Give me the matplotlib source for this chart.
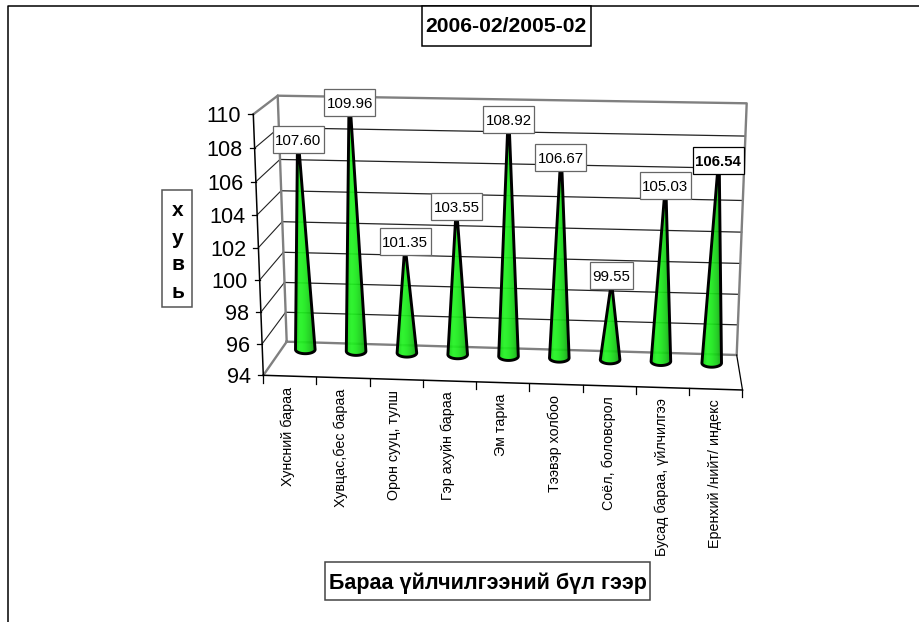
import numpy as np
import matplotlib
matplotlib.use("Agg")
import matplotlib.pyplot as plt
from matplotlib.colors import LinearSegmentedColormap
from matplotlib.patches import PathPatch, Rectangle
from matplotlib.path import Path

plt.rcParams['font.family'] = ['Liberation Sans', 'DejaVu Sans']

categories = ["Хунсний бараа", "Хувцас,бес бараа", "Орон сууц, тулш",
              "Гэр ахуйн бараа", "Эм тариа", "Тээвэр холбоо",
              "Соёл, боловсрол", "Бусад бараа, үйлчилгээ",
              "Еренхий /нийт/ индекс"]
values = [107.60, 109.96, 101.35, 103.55, 108.92, 106.67, 99.55, 105.03, 106.54]
labels = ["107.60", "109.96", "101.35", "103.55", "108.92", "106.67", "99.55",
          "105.03", "106.54"]
y_ticks = [94, 96, 98, 100, 102, 104, 106, 108, 110]

GRAY = "#808080"
cone_cmap = LinearSegmentedColormap.from_list(
    "cone", ["#12cc12", "#22f422", "#1cea1c", "#16cc16", "#0f9a0f"])


def wall_y(y_bottom, y_top, v):
    # the 3d view bends the value scale a little
    t = (v - 94) / 16
    return y_bottom + (y_top - y_bottom) * t + 12 * t * (1 - t)


def wall_x(x_bottom, x_top, v):
    return x_bottom + (x_top - x_bottom) * (v - 94) / 16


def front_left(v):
    return wall_x(263.3, 253.3, v), wall_y(375.3, 114.3, v)


def back_left(v):
    return wall_x(286.7, 277.7, v), wall_y(341.7, 95.7, v)


def back_right(v):
    return wall_x(736.7, 746.7, v), wall_y(355, 103.3, v)


def cone_tip(i, v):
    u = i / (len(values) - 1)
    height = (16 + 0.8 * u) * (v - 95.2)
    base_x = 305.3 + 50.8 * i
    return base_x + (-0.035 + 0.07 * u) * height, 351.5 + 13.5 * u - height


def draw_cone(ax, i, v):
    u = i / (len(values) - 1)
    cx, cy = 305.3 + 50.8 * i, 349.5 + 13.5 * u
    tx, ty = cone_tip(i, v)
    w, h = 9.8, 4.2
    a = np.linspace(0, np.pi, 30)
    pts = [(tx - 1, ty), (tx + 1, ty)]
    pts += list(zip(cx + w * np.cos(a), cy + h * np.sin(a)))
    pts.append((tx - 1, ty))
    path = Path(pts)

    grad = np.linspace(0, 1, 64).reshape(1, -1)
    im = ax.imshow(grad, cmap=cone_cmap, extent=(cx - w, cx + w, cy + h, ty),
                   aspect='auto', alpha=0.93, zorder=3)
    im.set_clip_path(PathPatch(path, transform=ax.transData))
    ax.add_patch(PathPatch(path, fc='none', ec='black', lw=2.1, zorder=4,
                           joinstyle='round'))


fig = plt.figure(figsize=(9.2, 6.22), dpi=100)
ax = fig.add_axes([0, 0, 1, 1])
ax.axis('off')

# outer chart frame, cut off on the right and at the bottom
ax.plot([8, 8, 920], [622, 6, 6], color='black', lw=1.1, zorder=1)

# grid on the back wall and on the side wall
for v in y_ticks[1:-1]:
    xa, ya = back_left(v)
    xb, yb = back_right(v)
    xf, yf = front_left(v)
    ax.plot([xa, xb], [ya, yb], color='#222222', lw=0.9, zorder=1)
    ax.plot([xf, xa], [yf, ya], color='#222222', lw=0.8, zorder=1)

# wall edges
wall = [back_left(94), back_left(110), back_right(110), back_right(94), back_left(94)]
ax.plot(*zip(*wall), color=GRAY, lw=1.7, zorder=2)
ax.plot(*zip(front_left(110), back_left(110)), color=GRAY, lw=1.7, zorder=2)
ax.plot(*zip(front_left(94), back_left(94)), color=GRAY, lw=1.7, zorder=2)

# value axis
ax.plot(*zip(front_left(94), front_left(110)), color='black', lw=1.1, zorder=2)
for v in y_ticks:
    x, y = front_left(v)
    ax.plot([x - 5, x], [y, y], color='black', lw=0.9, zorder=2)
    ax.text(x - 12, y, str(v), ha='right', va='center_baseline', fontsize=15.6,
            color='black')

# category axis
floor_right = (742.5, 390)
ax.plot([front_left(94)[0], floor_right[0]], [front_left(94)[1], floor_right[1]],
        color='black', lw=1.1, zorder=2)
ax.plot(*zip(back_right(94), floor_right), color='black', lw=0.9, zorder=2)
for i in range(len(categories) + 1):
    x = 263 + (floor_right[0] - 263) * i / len(categories)
    y = 375.5 + (floor_right[1] - 375.5) * i / len(categories)
    ax.plot([x, x], [y, y + 7], color='black', lw=0.9, zorder=2)
for i, name in enumerate(categories):
    ax.text(287.5 + 53.5 * i, 387 + 1.55 * i, name, rotation=90, ha='center',
            va='top', fontsize=10.3)

for i, v in enumerate(values):
    draw_cone(ax, i, v)

# value labels sit on the cone tips
for i, (v, label) in enumerate(zip(values, labels)):
    tx, ty = cone_tip(i, v)
    last = i == len(values) - 1
    bw = 8 * len(label) + 3
    ax.add_patch(Rectangle((tx - bw / 2, ty - 27), bw, 27, fc='white',
                           ec='black' if last else '#666666', lw=0.9, zorder=5))
    ax.text(tx, ty - 13.5, label, ha='center', va='center_baseline', fontsize=10.8,
            fontweight='bold' if last else 'normal', zorder=6)

# title boxes
ax.add_patch(Rectangle((421.7, 6), 169, 39.5, fc='white', ec='black', lw=1.1, zorder=5))
ax.text(506, 25, "2006-02/2005-02", ha='center', va='center_baseline', fontsize=15.2,
        fontweight='bold', zorder=6)

ax.add_patch(Rectangle((325.5, 562), 324.5, 38, fc='white', ec='#444444', lw=1.1, zorder=5))
ax.text(487.7, 581, "Бараа үйлчилгээний бүл гээр", ha='center', va='center_baseline',
        fontsize=15.5, fontweight='bold', zorder=6)

ax.add_patch(Rectangle((161.7, 189.5), 30.6, 117, fc='white', ec='#555555', lw=1.1, zorder=5))
for letter, y in zip("хувь", [208, 237, 262, 290]):
    ax.text(178, y, letter, ha='center', va='center_baseline', fontsize=15,
            fontweight='bold', zorder=6)

ax.set_xlim(0, 920)
ax.set_ylim(622, 0)
fig.savefig("out.png", dpi=100, facecolor='white')
